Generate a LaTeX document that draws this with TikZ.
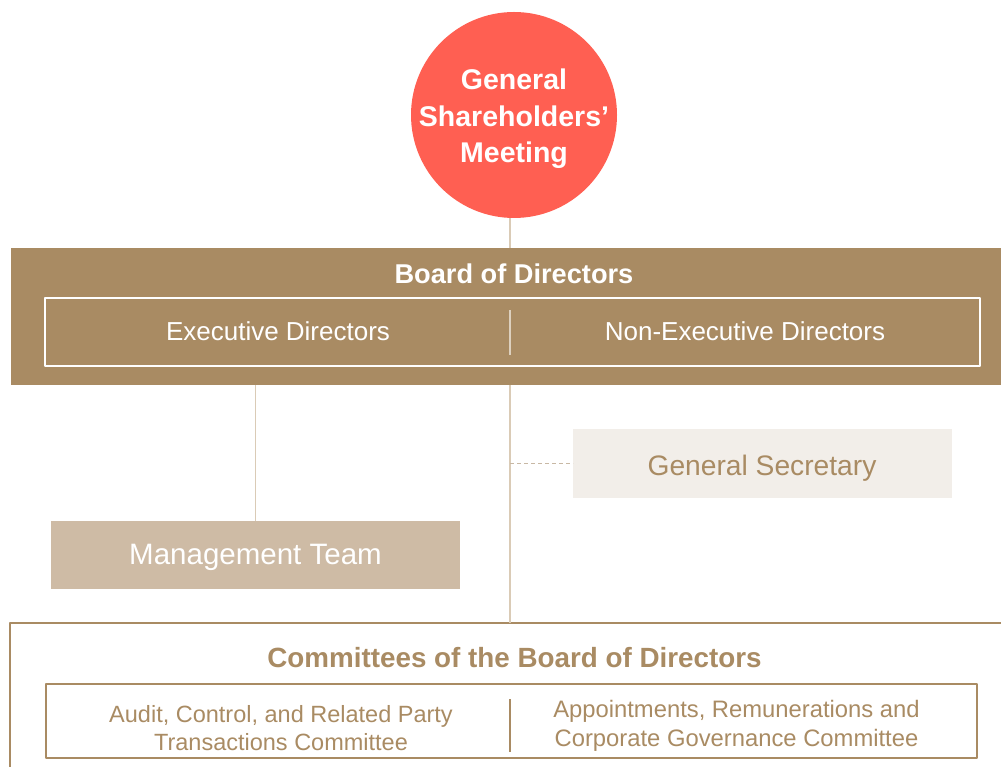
\documentclass[tikz,border=0pt]{standalone}
\usepackage{fontspec}
\setmainfont{Liberation Sans}
\definecolor{bodtan}{HTML}{A98B63}
\definecolor{gsmred}{HTML}{FF5F52}
\definecolor{mgmtfill}{HTML}{CEBBA5}
\definecolor{secfill}{HTML}{F2EEE9}
\definecolor{linkcol}{HTML}{DACBB6}
\definecolor{dashcol}{HTML}{C8B8A4}
\definecolor{splitcol}{HTML}{DDD0BE}
\tikzset{
  box/.style={rectangle,inner sep=0pt,outer sep=0pt},
  link/.style={draw=linkcol,line width=1.5bp},
  lbl/.style={anchor=base,inner sep=0pt}
}
\begin{document}
\begin{tikzpicture}[>=latex,line join=bevel,]
\useasboundingbox (0bp,0bp) rectangle (1001bp,767bp);
\clip (0bp,0bp) rectangle (1001bp,767bp);
\coordinate (spine) at (510bp,0bp);
  % Node: gsm
  \node [circle,fill=gsmred,minimum size=206bp,inner sep=0pt] (gsm) at (514bp,652bp) {};
  \node [text=white,align=center,font=\fontsize{28.5bp}{36.5bp}\selectfont\bfseries] (gsmtext) at (514bp,648bp)
    {General\\Shareholders’\\Meeting};
  % Node: board
  \node [box,fill=bodtan,minimum width=999bp,minimum height=137bp] (board) at (510.5bp,450.5bp) {};
  \node [lbl,text=white,font=\fontsize{27.2bp}{32bp}\selectfont\bfseries] (boardtitle) at (514bp,483bp) {Board of Directors};
  \node [box,draw=white,line width=1.5bp,minimum width=935bp,minimum height=68bp] (directors) at (512.5bp,435bp) {};
  \draw [draw=splitcol,line width=1.5bp] (510bp,412bp) -- (510bp,457bp);
  \node [lbl,text=white,font=\fontsize{26bp}{31bp}\selectfont] (execdir) at (278bp,426bp) {Executive Directors};
  \node [lbl,text=white,font=\fontsize{26bp}{31bp}\selectfont] (nonexecdir) at (745bp,426bp) {Non-Executive Directors};
  % Node: gensec
  \node [box,fill=secfill,minimum width=379bp,minimum height=69bp] (gensec) at (762.5bp,303.5bp) {};
  \node [lbl,text=bodtan,font=\fontsize{28.2bp}{33bp}\selectfont] (gensectext) at (762bp,291bp) {General Secretary};
  % Node: mgmt
  \node [box,fill=mgmtfill,minimum width=409bp,minimum height=68bp] (mgmt) at (255.5bp,212bp) {};
  \node [lbl,text=white,font=\fontsize{29.5bp}{34bp}\selectfont] (mgmttext) at (255.5bp,202bp) {Management Team};
  % Node: comm
  \node [box,draw=bodtan,line width=2bp,minimum width=1002bp,minimum height=154bp] (comm) at (511bp,67bp) {};
  \node [lbl,text=bodtan,font=\fontsize{27.8bp}{32bp}\selectfont\bfseries] (commtitle) at (514.5bp,99bp) {Committees of the Board of Directors};
  \node [box,draw=bodtan,line width=1.8bp,minimum width=931bp,minimum height=74bp] (committees) at (511.5bp,46bp) {};
  \draw [draw=bodtan,line width=1.5bp] (510bp,15bp) -- (510bp,68bp);
  \node [text=bodtan,align=center,font=\fontsize{23.5bp}{28.3bp}\selectfont] (audit) at (281bp,39bp)
    {Audit, Control, and Related Party\\Transactions Committee};
  \node [text=bodtan,align=center,font=\fontsize{23.8bp}{28.8bp}\selectfont] (appoint) at (736.5bp,41bp)
    {Appointments, Remunerations and\\Corporate Governance Committee};
  % Edge: gsm -> board
  \draw [link] (gsm.south -| spine) -- (board.north -| spine);
  % Edge: board -> mgmt
  \draw [link] (board.south -| mgmt.north) -- (mgmt.north);
  % Edge: board -> comm
  \draw [link] (board.south -| spine) -- (comm.north -| spine);
  % Edge: spine -> gensec
  \draw [draw=dashcol,line width=1bp,dash pattern=on 4bp off 3bp] (spine |- gensec.west) -- (gensec.west);
%
\end{tikzpicture}
\end{document}
